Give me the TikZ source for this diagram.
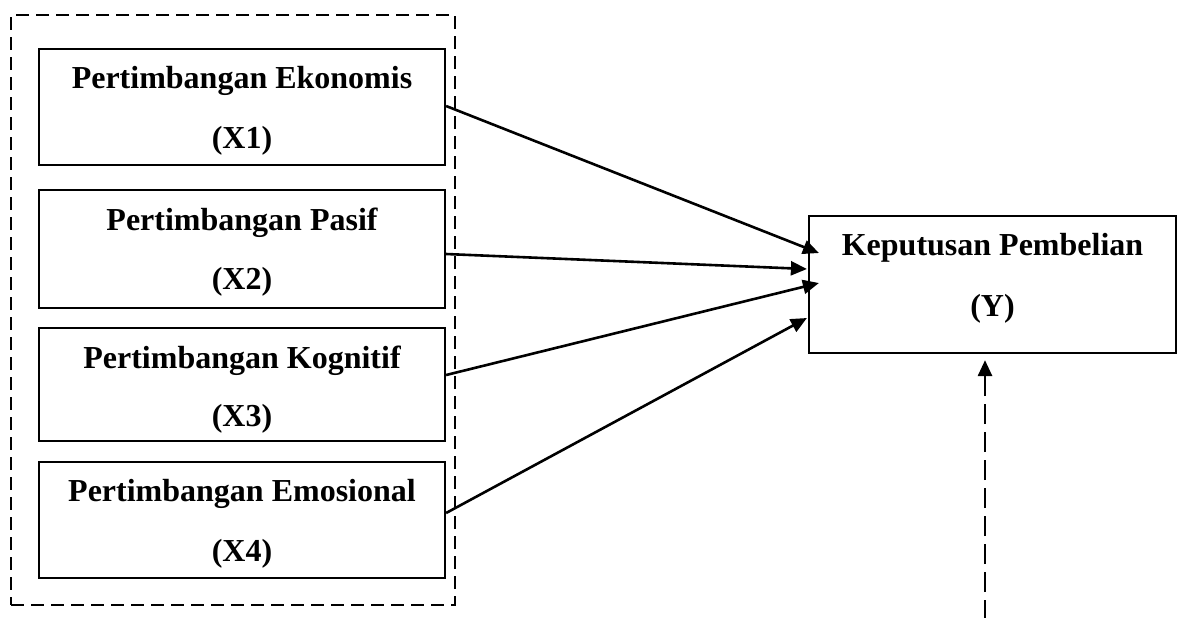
\documentclass[tikz,border=0pt]{standalone}
\usepackage{fontspec}
\setmainfont{Liberation Serif}
\usetikzlibrary{arrows.meta,calc}
\begin{document}
\begin{tikzpicture}[x=0.5pt,y=-0.5pt,
  box/.style={draw,line width=1.1pt,rectangle,inner sep=0pt},
  lbl/.style={anchor=base,font=\fontsize{16}{20}\selectfont\bfseries,inner sep=0pt},
  arr/.style={line width=1.3pt,-{Triangle[length=8pt,width=7pt]}},
  grpbox/.style={draw,line width=0.75pt,dash pattern=on 6.5pt off 3.5pt,rectangle,inner sep=0pt},
  darr/.style={line width=1.4pt,dash pattern=on 10pt off 4pt,-{Triangle[length=8pt,width=7pt]}}]
\useasboundingbox (0,0) rectangle (1177,617);
\node[grpbox,minimum width=222pt,minimum height=295pt] (grp) at (233,310) {};
\node[box,minimum width=203pt,minimum height=58pt] (x1) at (242,107) {};
\node[box,minimum width=203pt,minimum height=59pt] (x2) at (242,249) {};
\node[box,minimum width=203pt,minimum height=56.5pt] (x3) at (242,384.5) {};
\node[box,minimum width=203pt,minimum height=58pt] (x4) at (242,520) {};
\node[box,minimum width=183.5pt,minimum height=68.5pt] (y) at (992.5,284.5) {};
\node[lbl] (x1a) at ($(x1.north)+(0,41)$) {Pertimbangan Ekonomis};
\node[lbl] (x1b) at ($(x1.north)+(0,101)$) {(X1)};
\node[lbl] (x2a) at ($(x2.north)+(0,42)$) {Pertimbangan Pasif};
\node[lbl] (x2b) at ($(x2.north)+(0,101)$) {(X2)};
\node[lbl] (x3a) at ($(x3.north)+(0,42)$) {Pertimbangan Kognitif};
\node[lbl] (x3b) at ($(x3.north)+(0,100)$) {(X3)};
\node[lbl] (x4a) at ($(x4.north)+(0,41)$) {Pertimbangan Emosional};
\node[lbl] (x4b) at ($(x4.north)+(0,101)$) {(X4)};
\node[lbl] (ya) at ($(y.north)+(0,41)$) {Keputusan Pembelian};
\node[lbl] (yb) at ($(y.north)+(0,102)$) {(Y)};
\draw[arr] ($(x1.east)+(0,-1)$) -- ($(y.west)+(11,-31.5)$);
\draw[arr] ($(x2.east)+(0,5)$) -- ($(y.west)+(-1,-15.5)$);
\draw[arr] ($(x3.east)+(0,-9.5)$) -- ($(y.west)+(11,-1.5)$);
\draw[arr] ($(x4.east)+(0,-7)$) -- ($(y.west)+(-1,33.5)$);
\coordinate (ext) at (985,620);
\draw[darr] (ext) -- ($(y.south)+(-7.5,6)$);
\end{tikzpicture}
\end{document}
